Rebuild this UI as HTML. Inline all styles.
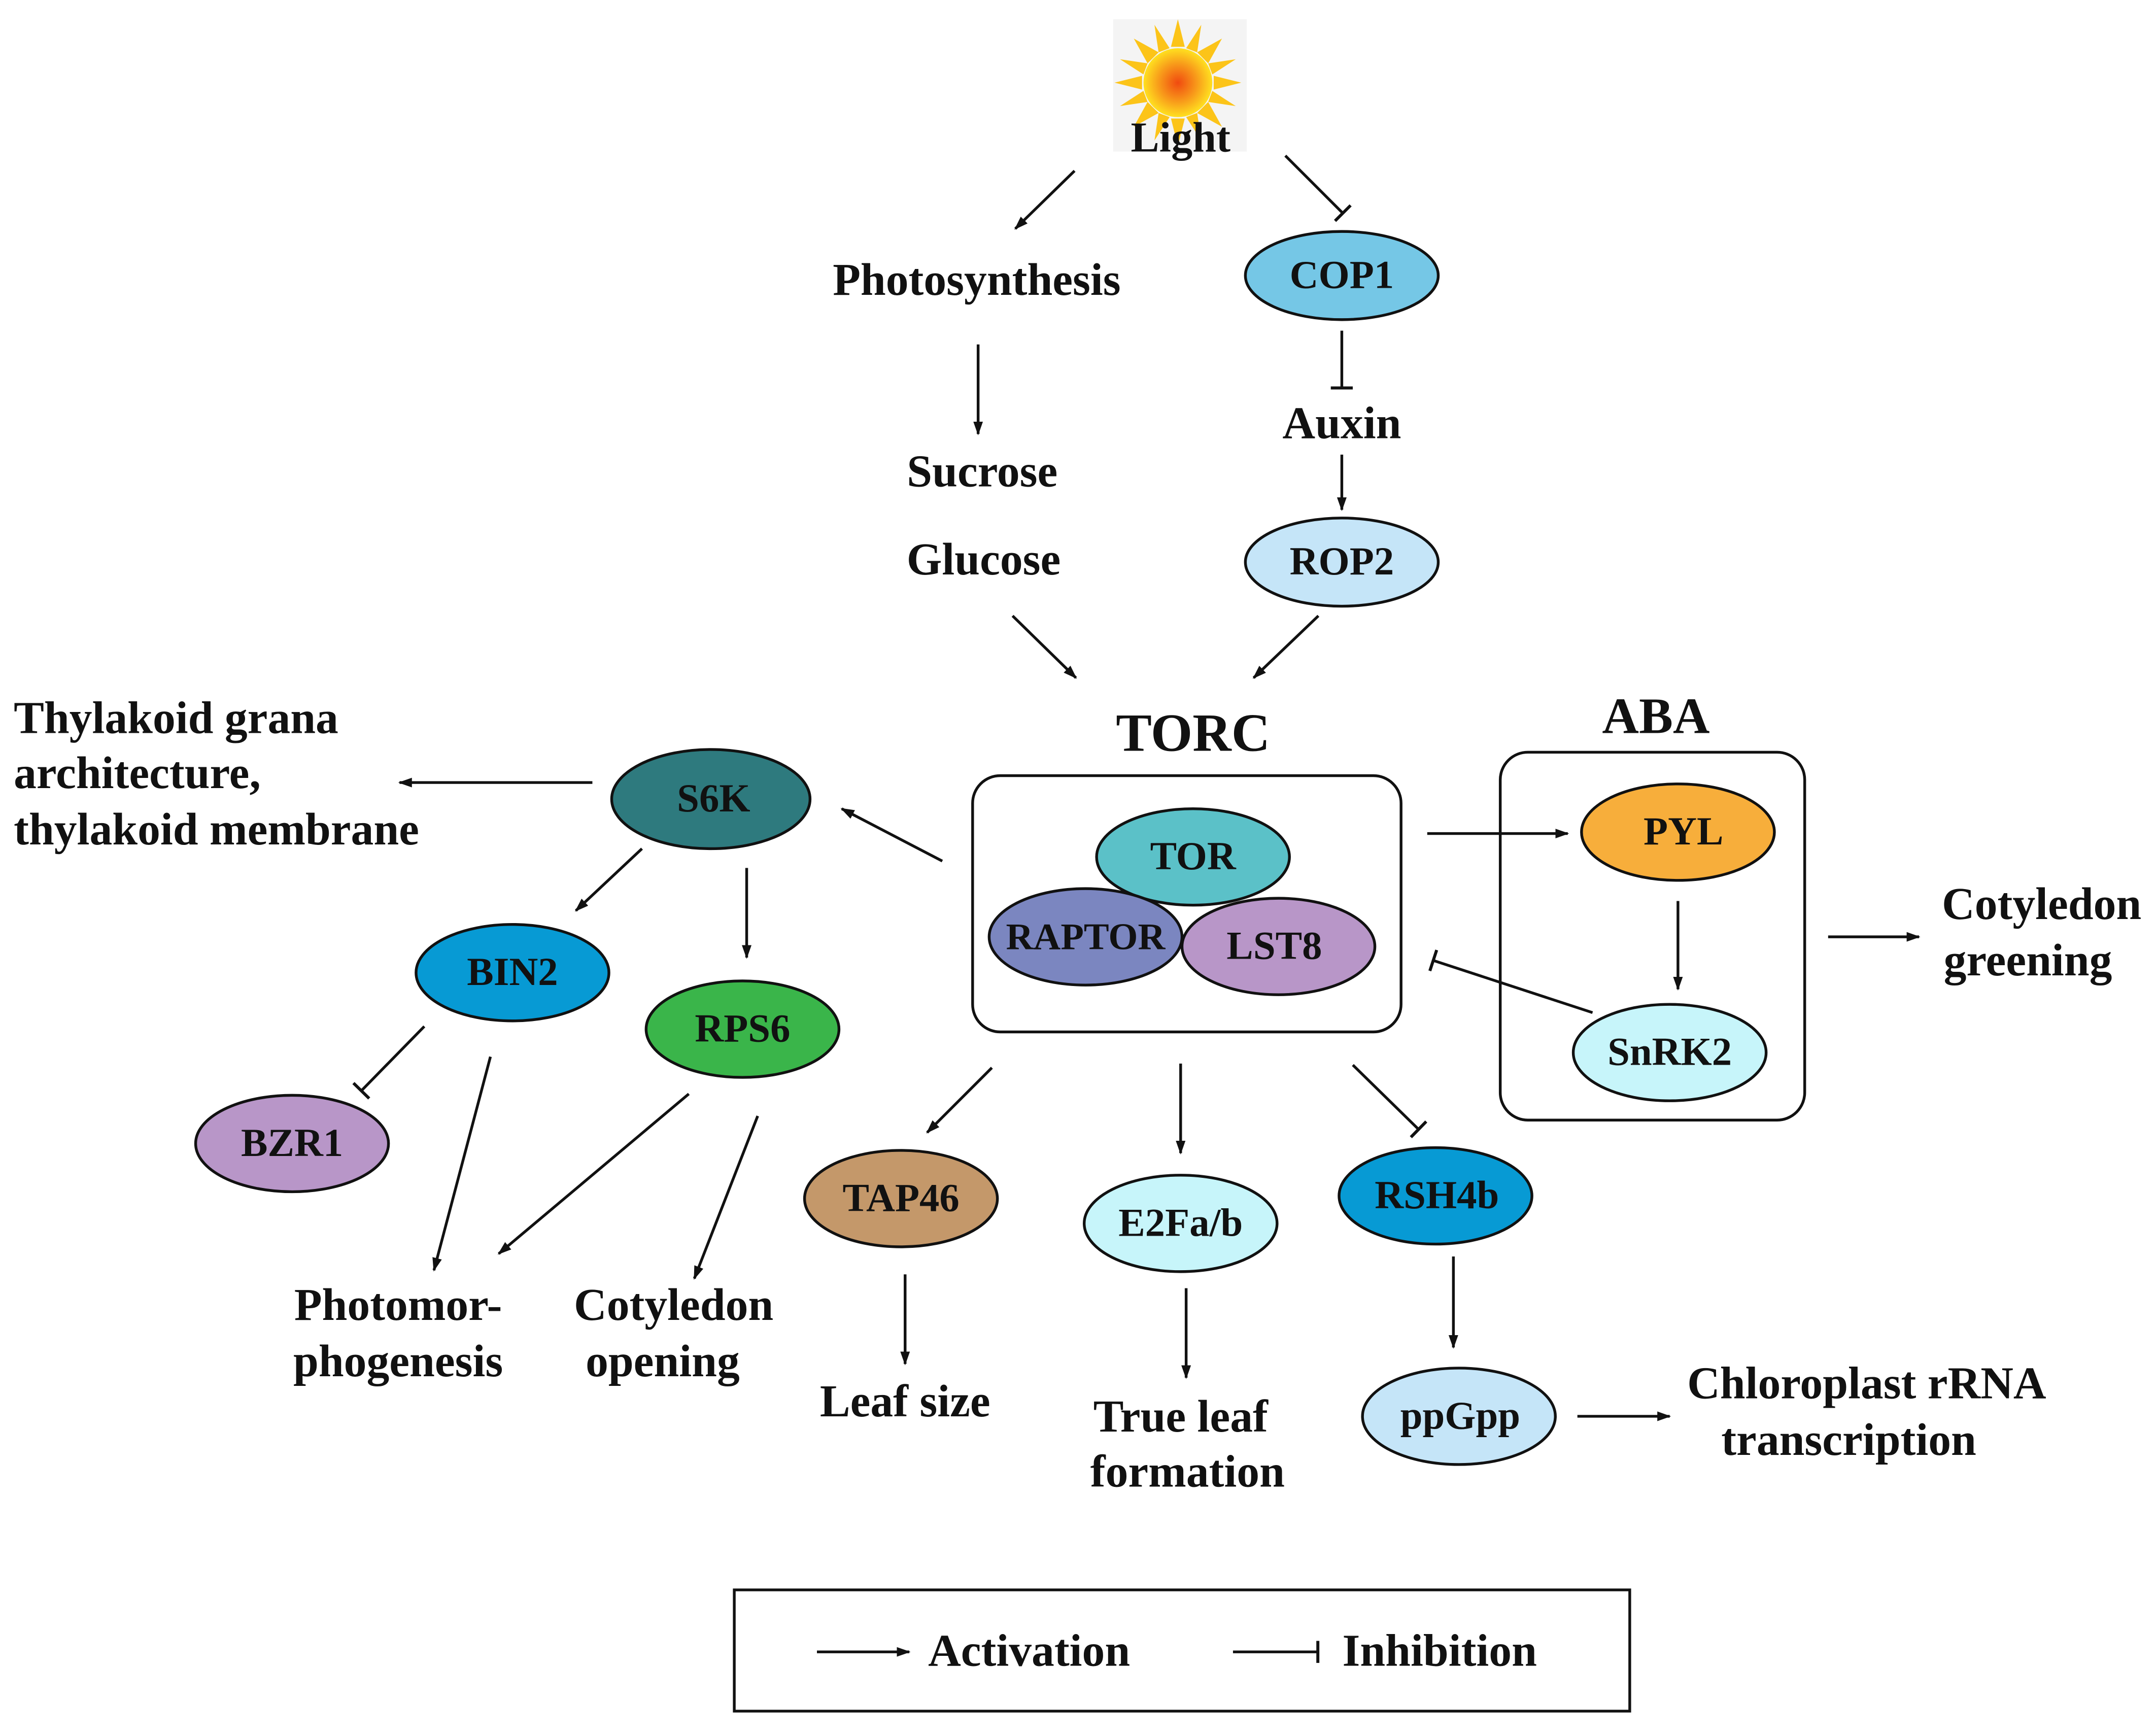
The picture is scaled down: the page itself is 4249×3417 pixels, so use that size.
<!DOCTYPE html>
<html><head><meta charset="utf-8"><style>
html,body{margin:0;padding:0;background:#fff;}
svg{display:block;}
text{font-family:"Liberation Serif",serif;font-weight:bold;fill:#111;}
</style></head><body>
<svg width="4249" height="3417" viewBox="0 0 1565 1258.6" preserveAspectRatio="none" xmlns="http://www.w3.org/2000/svg">
<defs>
<marker id="a" markerWidth="10" markerHeight="8" refX="9" refY="4" orient="auto" markerUnits="userSpaceOnUse"><path d="M0,0.5 L10,4 L0,7.5 Z" fill="#111"/></marker>
<marker id="t" markerWidth="4" markerHeight="16" refX="2" refY="8" orient="auto" markerUnits="userSpaceOnUse"><rect x="0.5" y="0" width="2.2" height="16" fill="#111"/></marker>
<radialGradient id="sun" cx="50%" cy="50%" r="50%"><stop offset="0" stop-color="#f04a10"/><stop offset="0.55" stop-color="#f89a1a"/><stop offset="1" stop-color="#ffe020"/></radialGradient>
</defs>
<rect x="0" y="0" width="1565" height="1259" fill="#fff"/>
<rect x="808" y="14" width="97" height="96" fill="#f4f4f4"/>
<g transform="translate(855,60)">
<g fill="#fcc419">
<polygon points="0,-46 5,-26 -5,-26"/><polygon points="0,46 5,26 -5,26"/><polygon points="-46,0 -26,5 -26,-5"/><polygon points="46,0 26,5 26,-5"/>
<polygon points="32,-32 22,-14 14,-22"/><polygon points="-32,-32 -22,-14 -14,-22"/><polygon points="32,32 22,14 14,22"/><polygon points="-32,32 -22,14 -14,22"/>
<polygon points="17,-42 14,-22 6,-25"/><polygon points="-17,-42 -14,-22 -6,-25"/><polygon points="17,42 14,22 6,25"/><polygon points="-17,42 -14,22 -6,25"/>
<polygon points="42,-17 22,-14 25,-6"/><polygon points="-42,-17 -22,-14 -25,-6"/><polygon points="42,17 22,14 25,6"/><polygon points="-42,17 -22,14 -25,6"/>
</g>
<circle r="25" fill="url(#sun)"/>
</g>
<text x="857" y="110" font-size="31" text-anchor="middle">Light</text>
<g stroke="#111" stroke-width="2" fill="none">
<line x1="780" y1="124" x2="737" y2="166" marker-end="url(#a)"/>
<line x1="933" y1="113" x2="975" y2="155" marker-end="url(#t)"/>
<line x1="710" y1="250" x2="710" y2="315" marker-end="url(#a)"/>
<line x1="974" y1="240" x2="974" y2="282" marker-end="url(#t)"/>
<line x1="974" y1="330" x2="974" y2="370" marker-end="url(#a)"/>
<line x1="735" y1="447" x2="781" y2="492" marker-end="url(#a)"/>
<line x1="957" y1="447" x2="910" y2="492" marker-end="url(#a)"/>
<line x1="1036" y1="605" x2="1138" y2="605" marker-end="url(#a)"/>
<line x1="1218" y1="654" x2="1218" y2="718" marker-end="url(#a)"/>
<line x1="1156" y1="735" x2="1040" y2="697" marker-end="url(#t)"/>
<line x1="1327" y1="680" x2="1393" y2="680" marker-end="url(#a)"/>
<line x1="684" y1="625" x2="611" y2="587" marker-end="url(#a)"/>
<line x1="430" y1="568" x2="290" y2="568" marker-end="url(#a)"/>
<line x1="466" y1="616" x2="418" y2="661" marker-end="url(#a)"/>
<line x1="542" y1="630" x2="542" y2="695" marker-end="url(#a)"/>
<line x1="308" y1="745" x2="262" y2="792" marker-end="url(#t)"/>
<line x1="356" y1="767" x2="315" y2="922" marker-end="url(#a)"/>
<line x1="500" y1="794" x2="362" y2="910" marker-end="url(#a)"/>
<line x1="550" y1="810" x2="504" y2="928" marker-end="url(#a)"/>
<line x1="720" y1="775" x2="673" y2="822" marker-end="url(#a)"/>
<line x1="657" y1="925" x2="657" y2="990" marker-end="url(#a)"/>
<line x1="857" y1="772" x2="857" y2="837" marker-end="url(#a)"/>
<line x1="861" y1="935" x2="861" y2="1000" marker-end="url(#a)"/>
<line x1="982" y1="773" x2="1030" y2="820" marker-end="url(#t)"/>
<line x1="1055" y1="912" x2="1055" y2="978" marker-end="url(#a)"/>
<line x1="1145" y1="1028" x2="1212" y2="1028" marker-end="url(#a)"/>
<rect x="706" y="563" width="311" height="186" rx="20"/>
<rect x="1089" y="546" width="221" height="267" rx="20"/>
<rect x="533" y="1154" width="650" height="88"/>
<line x1="593" y1="1199" x2="660" y2="1199" marker-end="url(#a)"/>
<line x1="895" y1="1199" x2="957" y2="1199" marker-end="url(#t)"/>
</g>
<g stroke="#111" stroke-width="2">
<ellipse cx="974" cy="200" rx="70" ry="32" fill="#75c7e6"/>
<ellipse cx="974" cy="408" rx="70" ry="32" fill="#c5e5f8"/>
<ellipse cx="866" cy="622" rx="70" ry="35" fill="#5bc1c8"/>
<ellipse cx="788" cy="680" rx="70" ry="35" fill="#7b86c0"/>
<ellipse cx="928" cy="687" rx="70" ry="35" fill="#b896c8"/>
<ellipse cx="1218" cy="604" rx="70" ry="35" fill="#f7ae3b"/>
<ellipse cx="1212" cy="764" rx="70" ry="35" fill="#c7f5fa"/>
<ellipse cx="516" cy="580" rx="72" ry="36" fill="#2e7a7e"/>
<ellipse cx="372" cy="706" rx="70" ry="35" fill="#079ad4"/>
<ellipse cx="539" cy="747" rx="70" ry="35" fill="#3ab54a"/>
<ellipse cx="212" cy="830" rx="70" ry="35" fill="#b896c8"/>
<ellipse cx="654" cy="870" rx="70" ry="35" fill="#c4986a"/>
<ellipse cx="857" cy="888" rx="70" ry="35" fill="#c7f5fa"/>
<ellipse cx="1042" cy="868" rx="70" ry="35" fill="#079ad4"/>
<ellipse cx="1059" cy="1028" rx="70" ry="35" fill="#c5e5f8"/>
</g>
<g font-size="29" text-anchor="middle">
<text x="974" y="209">COP1</text>
<text x="974" y="417">ROP2</text>
<text x="866" y="631">TOR</text>
<text x="788" y="689" font-size="27.5">RAPTOR</text>
<text x="925" y="696">LST8</text>
<text x="1222" y="613">PYL</text>
<text x="1212" y="773">SnRK2</text>
<text x="518" y="589">S6K</text>
<text x="372" y="715">BIN2</text>
<text x="539" y="756">RPS6</text>
<text x="212" y="839">BZR1</text>
<text x="654" y="879">TAP46</text>
<text x="857" y="897">E2Fa/b</text>
<text x="1043" y="877">RSH4b</text>
<text x="1060" y="1037">ppGpp</text>
</g>
<g font-size="33" text-anchor="middle">
<text x="709" y="214">Photosynthesis</text>
<text x="974" y="318">Auxin</text>
<text x="713" y="353">Sucrose</text>
<text x="714" y="417">Glucose</text>
<text x="866" y="545" font-size="39">TORC</text>
<text x="1202" y="532" font-size="37">ABA</text>
<text x="1482" y="667">Cotyledon</text>
<text x="1472" y="708">greening</text>
<text x="289" y="958">Photomor-</text>
<text x="289" y="999">phogenesis</text>
<text x="489" y="958">Cotyledon</text>
<text x="481" y="999">opening</text>
<text x="657" y="1028">Leaf size</text>
<text x="857" y="1039">True leaf</text>
<text x="862" y="1079">formation</text>
<text x="1355" y="1015">Chloroplast rRNA</text>
<text x="1342" y="1056">transcription</text>
<text x="747" y="1209">Activation</text>
<text x="1045" y="1209">Inhibition</text>
</g>
<g font-size="33">
<text x="10" y="532">Thylakoid grana</text>
<text x="10" y="572">architecture,</text>
<text x="10" y="613">thylakoid membrane</text>
</g>
</svg>
</body></html>
